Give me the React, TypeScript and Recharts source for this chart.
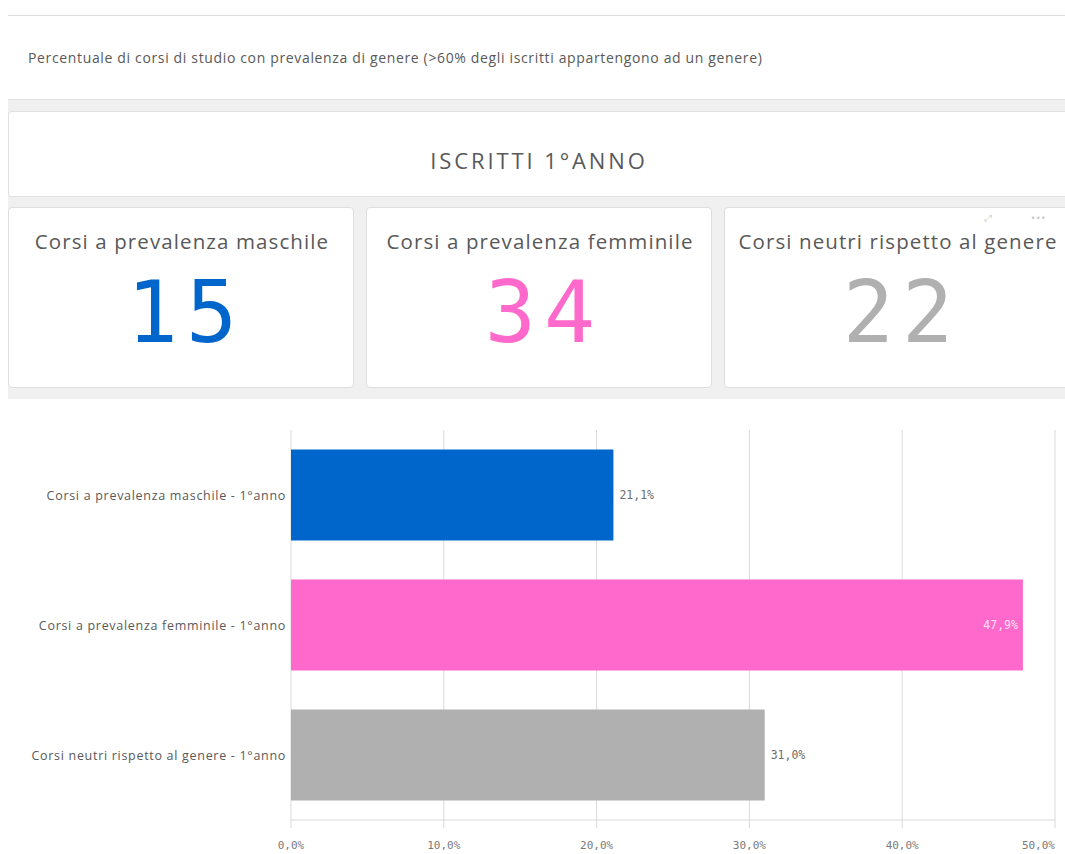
import React from "react";
import { BarChart, Bar, XAxis, YAxis, CartesianGrid, Cell, LabelList } from "recharts";

const categories = [
  "Corsi a prevalenza maschile - 1°anno",
  "Corsi a prevalenza femminile - 1°anno",
  "Corsi neutri rispetto al genere - 1°anno",
];
const shares = [0.211, 0.479, 0.31];
const barColors = ["#0066cc", "#ff69cc", "#b0b0b0"];
const kpiTitles = [
  "Corsi a prevalenza maschile",
  "Corsi a prevalenza femminile",
  "Corsi neutri rispetto al genere",
];
const kpiValues = [15, 34, 22];
const xTicks = [0, 0.1, 0.2, 0.3, 0.4, 0.5];
const pageTitle =
  "Percentuale di corsi di studio con prevalenza di genere (>60% degli iscritti appartengono ad un genere)";
const sectionTitle = "ISCRITTI 1°ANNO";

const data = categories.map((c, i) => ({ name: c, value: shares[i] }));

const fmt = (v: number) => (v * 100).toFixed(1).replace(".", ",") + "%";

const SANS = "'Open Sans', 'Noto Sans', sans-serif";
const MONO = "'DejaVu Sans Mono', monospace";

const CHART_W = 1057;
const CHART_H = 455;
const PLOT_RIGHT = 1047;

const XTick = (props: any) => {
  const { x, y, payload } = props;
  const last = payload.value === xTicks[xTicks.length - 1];
  return (
    <text
      x={x}
      y={y + 6}
      textAnchor={last ? "end" : "middle"}
      dominantBaseline="central"
      fill="#7a7a7a"
      fontSize={11}
      fontFamily={MONO}
    >
      {fmt(payload.value)}
    </text>
  );
};

const YTick = (props: any) => {
  const { x, y, payload } = props;
  return (
    <text
      x={x}
      y={y}
      textAnchor="end"
      dominantBaseline="central"
      fill="#595959"
      fontSize={12.5}
      letterSpacing={0.7}
      fontFamily={SANS}
    >
      {payload.value}
    </text>
  );
};

const BarLabel = (props: any) => {
  const { x, y, width, height, value } = props;
  const text = fmt(value);
  const end = x + width;
  const inside = end + 50 > PLOT_RIGHT;
  return (
    <text
      x={inside ? end - 5 : end + 6}
      y={y + height / 2}
      textAnchor={inside ? "end" : "start"}
      dominantBaseline="central"
      fill={inside ? "#fde2f4" : "#6e6e6e"}
      fontSize={11.5}
      fontFamily={MONO}
    >
      {text}
    </text>
  );
};

export default function App() {
  const cardLefts = [8, 366, 724];
  return (
    <div
      style={{
        position: "absolute",
        left: 0,
        top: 0,
        width: 1065,
        height: 854,
        overflow: "hidden",
        background: "#ffffff",
        fontFamily: SANS,
      }}
    >
      {/* gray background band */}
      <div style={{ position: "absolute", left: 8, top: 100, width: 1070, height: 300, background: "#f0f0f0" }} />

      {/* header panel */}
      <div
        style={{
          position: "absolute",
          left: 8,
          top: 15,
          width: 1070,
          height: 85,
          background: "#fff",
          borderTop: "1px solid #dcdcdc",
          borderBottom: "1px solid #e2e2e2",
          boxSizing: "border-box",
        }}
      />
      <div
        style={{
          position: "absolute",
          left: 28,
          top: 48,
          height: 20,
          lineHeight: "20px",
          fontSize: 14,
          letterSpacing: 0.65,
          color: "#595959",
          whiteSpace: "nowrap",
        }}
      >
        {pageTitle}
      </div>

      {/* section title panel */}
      <div
        style={{
          position: "absolute",
          left: 8,
          top: 111,
          width: 1062,
          height: 86,
          background: "#fff",
          border: "1px solid #e0e0e0",
          borderRadius: 3,
          boxSizing: "border-box",
        }}
      />
      <div
        style={{
          position: "absolute",
          left: 8,
          width: 1062,
          top: 145,
          height: 30,
          lineHeight: "30px",
          textAlign: "center",
          fontSize: 22,
          letterSpacing: 2.9,
          color: "#595959",
          whiteSpace: "nowrap",
        }}
      >
        {sectionTitle}
      </div>

      {/* KPI cards */}
      {cardLefts.map((left, i) => (
        <div
          key={i}
          style={{
            position: "absolute",
            left,
            top: 207,
            width: 346,
            height: 181,
            background: "#fff",
            border: "1px solid #dedede",
            borderRadius: 4,
            boxSizing: "border-box",
          }}
        >
          <div
            style={{
              position: "absolute",
              left: 0,
              width: 346,
              top: 18,
              height: 30,
              lineHeight: "30px",
              textAlign: "center",
              fontSize: 20.5,
              letterSpacing: 1.1,
              color: "#595959",
              whiteSpace: "nowrap",
            }}
          >
            {kpiTitles[i]}
          </div>
          <div
            style={{
              position: "absolute",
              left: 4,
              width: 346,
              top: 55,
              height: 100,
              lineHeight: "100px",
              textAlign: "center",
              fontSize: 85,
              fontFamily: MONO,
              letterSpacing: 8,
              color: barColors[i],
              whiteSpace: "nowrap",
            }}
          >
            {kpiValues[i]}
          </div>
        </div>
      ))}
      <div style={{ position: "absolute", left: 1031, top: 210, fontSize: 11, color: "#c8c8c8", letterSpacing: 1 }}>
        •••
      </div>
      <div style={{ position: "absolute", left: 985, top: 211, fontSize: 9, color: "#d0d0d0" }}>⤢</div>

      {/* chart panel */}
      <div style={{ position: "absolute", left: 8, top: 399, width: CHART_W, height: CHART_H, background: "#fff" }}>
        <BarChart
          width={CHART_W}
          height={CHART_H}
          data={data}
          layout="vertical"
          margin={{ top: 31, right: 10, bottom: 0, left: 0 }}
          barCategoryGap="15%"
        >
          <CartesianGrid horizontal={false} stroke="#d9d9d9" strokeWidth={1} />
          <XAxis
            type="number"
            domain={[0, 0.5]}
            ticks={xTicks}
            interval={0}
            height={34}
            tickSize={8}
            tickMargin={11}
            axisLine={{ stroke: "#d9d9d9" }}
            tickLine={{ stroke: "#d9d9d9" }}
            tick={<XTick />}
          />
          <YAxis
            type="category"
            dataKey="name"
            width={283}
            tickSize={0}
            tickMargin={5}
            axisLine={false}
            tickLine={false}
            tick={<YTick />}
          />
          <Bar dataKey="value" isAnimationActive={false}>
            {data.map((d, i) => (
              <Cell key={i} fill={barColors[i]} />
            ))}
            <LabelList dataKey="value" content={<BarLabel />} />
          </Bar>
        </BarChart>
      </div>
    </div>
  );
}
